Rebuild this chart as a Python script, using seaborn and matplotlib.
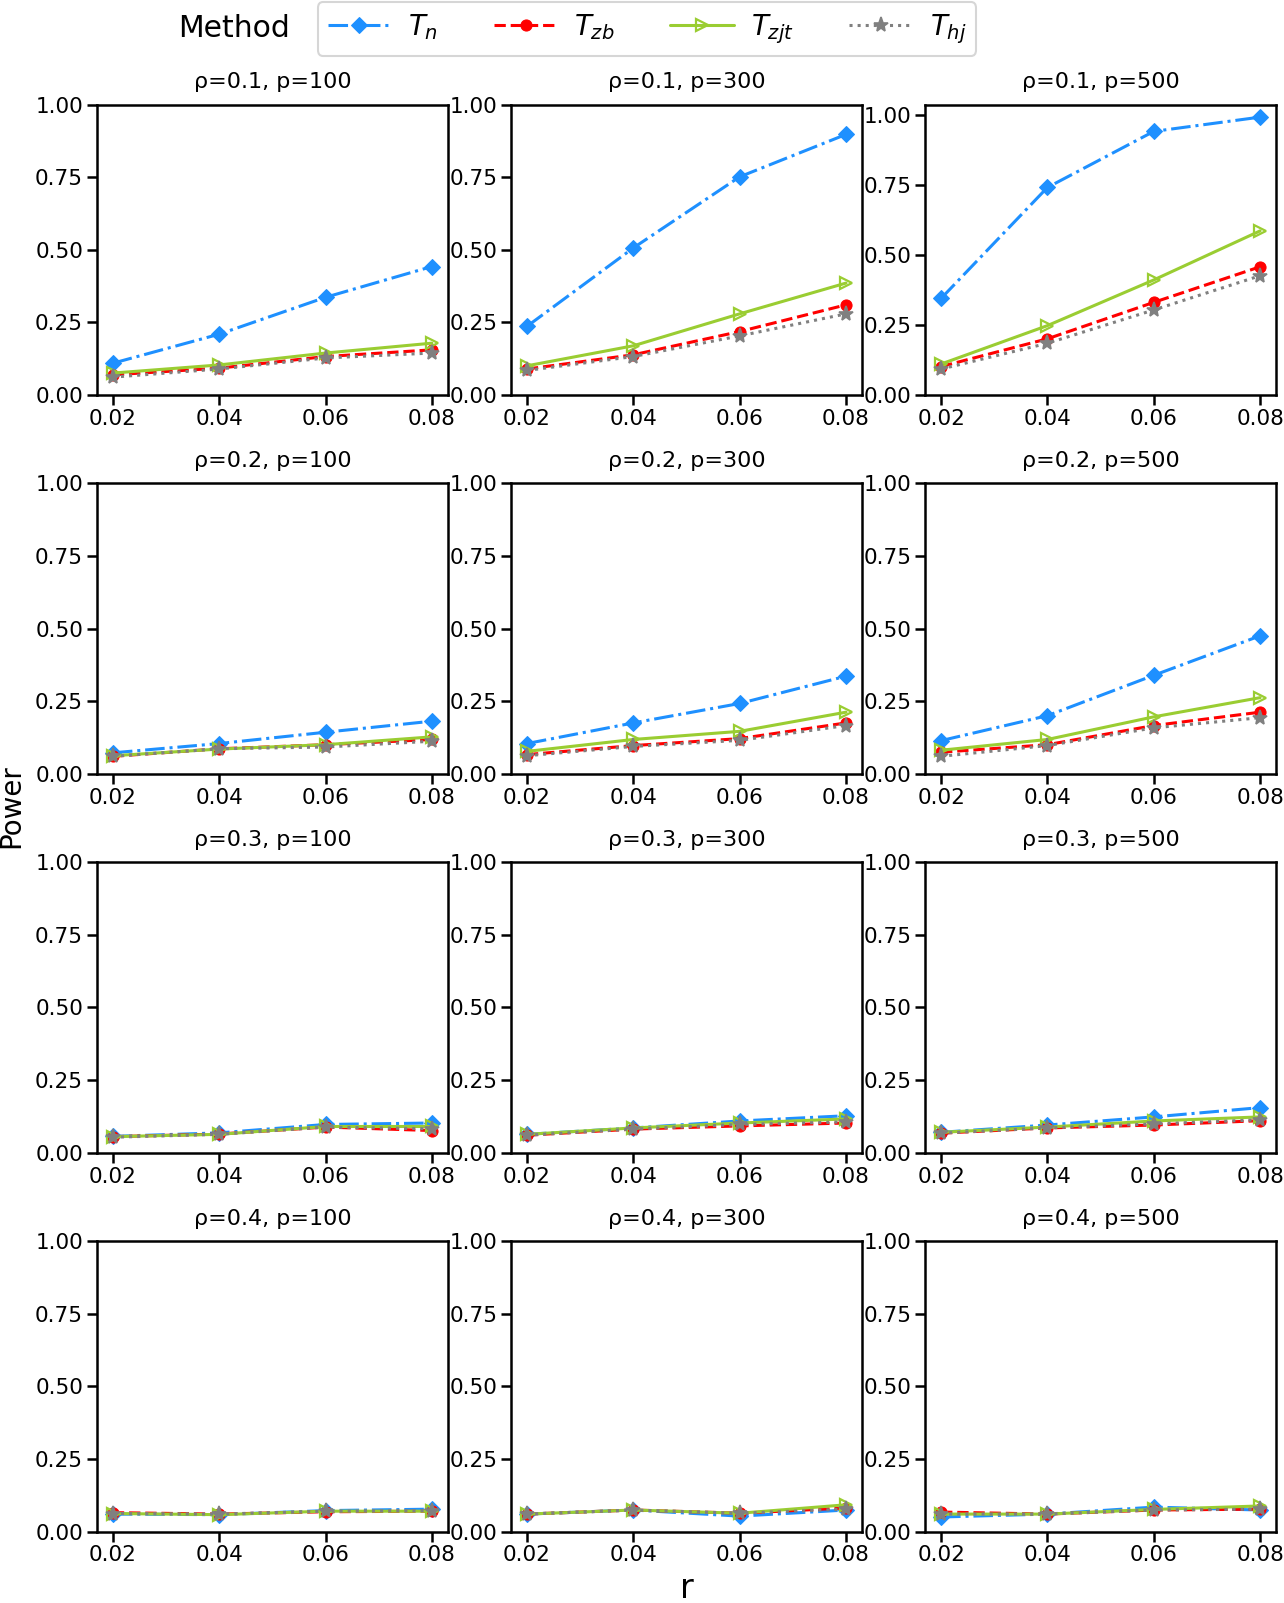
import numpy as np
import matplotlib
matplotlib.use("Agg")
import matplotlib.pyplot as plt
import seaborn as sns

# r values
r_vals = [0.02, 0.04, 0.06, 0.08]
rho_vals = [0.1, 0.2, 0.3, 0.4]
p_vals = [100, 300, 500]

# power values, rows = rho, cols = p
Tn = [
    [[0.109, 0.209, 0.336, 0.442], [0.236, 0.506, 0.751, 0.897], [0.344, 0.740, 0.940, 0.991]],
    [[0.072, 0.104, 0.143, 0.181], [0.104, 0.175, 0.242, 0.336], [0.114, 0.200, 0.339, 0.475]],
    [[0.056, 0.068, 0.097, 0.102], [0.063, 0.085, 0.109, 0.127], [0.070, 0.095, 0.123, 0.155]],
    [[0.060, 0.058, 0.072, 0.077], [0.060, 0.074, 0.053, 0.074], [0.050, 0.060, 0.084, 0.074]],
]
Tzb = [
    [[0.069, 0.092, 0.132, 0.155], [0.089, 0.138, 0.218, 0.310], [0.101, 0.200, 0.330, 0.457]],
    [[0.060, 0.086, 0.100, 0.118], [0.066, 0.097, 0.121, 0.175], [0.074, 0.100, 0.166, 0.212]],
    [[0.055, 0.064, 0.088, 0.076], [0.060, 0.081, 0.092, 0.102], [0.067, 0.085, 0.095, 0.110]],
    [[0.065, 0.060, 0.068, 0.070], [0.060, 0.074, 0.063, 0.081], [0.067, 0.060, 0.074, 0.077]],
]
Tzjt = [
    [[0.075, 0.103, 0.144, 0.178], [0.100, 0.169, 0.279, 0.385], [0.110, 0.247, 0.410, 0.585]],
    [[0.062, 0.085, 0.100, 0.127], [0.077, 0.118, 0.146, 0.212], [0.081, 0.118, 0.196, 0.262]],
    [[0.055, 0.063, 0.090, 0.090], [0.063, 0.085, 0.102, 0.116], [0.070, 0.088, 0.109, 0.123]],
    [[0.062, 0.058, 0.070, 0.070], [0.060, 0.074, 0.063, 0.092], [0.060, 0.060, 0.076, 0.088]],
]
Thj = [
    [[0.061, 0.089, 0.127, 0.144], [0.084, 0.132, 0.203, 0.279], [0.092, 0.184, 0.303, 0.425]],
    [[0.060, 0.086, 0.092, 0.112], [0.062, 0.094, 0.115, 0.166], [0.060, 0.097, 0.158, 0.193]],
    [[0.053, 0.063, 0.088, 0.082], [0.060, 0.081, 0.097, 0.106], [0.067, 0.085, 0.099, 0.113]],
    [[0.062, 0.060, 0.070, 0.072], [0.060, 0.074, 0.063, 0.077], [0.060, 0.060, 0.074, 0.077]],
]

methods = ["$T_n$", "$T_{zb}$", "$T_{zjt}$", "$T_{hj}$"]
series = [Tn, Tzb, Tzjt, Thj]
styles = [
    dict(color="#1E90FF", linestyle="-.", marker="D", markersize=8, markeredgecolor="#1E90FF"),
    dict(color="red", linestyle="--", marker="o", markersize=8, markeredgecolor="red"),
    dict(color="#9ACD32", linestyle="-", marker=">", markersize=9, markerfacecolor="none",
         markeredgecolor="#9ACD32", markeredgewidth=1.6),
    dict(color="gray", linestyle=":", marker="*", markersize=11, markeredgecolor="gray",
         markeredgewidth=1.2),
]

sns.set_theme(style="ticks")
plt.rcParams["font.family"] = ["DejaVu Sans"]
plt.rcParams["axes.linewidth"] = 1.8
plt.rcParams["axes.edgecolor"] = "black"
plt.rcParams["text.color"] = "black"
plt.rcParams["xtick.color"] = "black"
plt.rcParams["ytick.color"] = "black"
plt.rcParams["axes.labelcolor"] = "black"
plt.rcParams["xtick.major.width"] = 1.8
plt.rcParams["ytick.major.width"] = 1.8
plt.rcParams["xtick.major.size"] = 7
plt.rcParams["ytick.major.size"] = 7
plt.rcParams["xtick.labelsize"] = 15.5
plt.rcParams["ytick.labelsize"] = 15.5
plt.rcParams["axes.titlesize"] = 16

fig, axes = plt.subplots(4, 3, figsize=(12.84, 16.03), dpi=100)
fig.subplots_adjust(left=0.0755, right=0.9938, top=0.9348, bottom=0.0446,
                    wspace=0.18, hspace=0.305)

for i, rho in enumerate(rho_vals):
    for j, p in enumerate(p_vals):
        ax = axes[i, j]
        for name, s, st in zip(methods, series, styles):
            sns.lineplot(x=r_vals, y=s[i][j], ax=ax, label=name, linewidth=2.2, **st)
        ax.set_title(f"ρ={rho}, p={p}", pad=12)
        ax.set_xticks(r_vals)
        ax.set_xticklabels([f"{v:.2f}" for v in r_vals])
        ax.set_ylim(bottom=0)
        if ax.get_ylim()[1] < 1:
            ax.set_ylim(0, 1)
        ax.set_yticks([0, 0.25, 0.5, 0.75, 1.0])
        ax.set_yticklabels(["0.00", "0.25", "0.50", "0.75", "1.00"])
        ax.tick_params(pad=3)
        ax.set_xlabel("")
        ax.set_ylabel("")
        for sp in ax.spines.values():
            sp.set_visible(True)
        ax.get_legend().remove()

handles, labels = axes[0, 0].get_legend_handles_labels()
leg = fig.legend(handles, labels, loc="upper left", bbox_to_anchor=(0.2475, 0.9985),
                 ncol=4, fontsize=20, frameon=True, handlelength=2.3, columnspacing=2.0,
                 borderpad=0.35, handletextpad=0.6, borderaxespad=0)
leg.get_frame().set_edgecolor("#cccccc")
leg.get_frame().set_linewidth(1.5)
fig.text(0.139, 0.982, "Method", fontsize=21.5, ha="left", va="center")

fig.text(0.009, 0.497, "Power", rotation=90, fontsize=20, ha="center", va="center")
fig.text(0.535, 0.003, "r", fontsize=24, ha="center", va="baseline")

fig.savefig("out.png", dpi=100)
